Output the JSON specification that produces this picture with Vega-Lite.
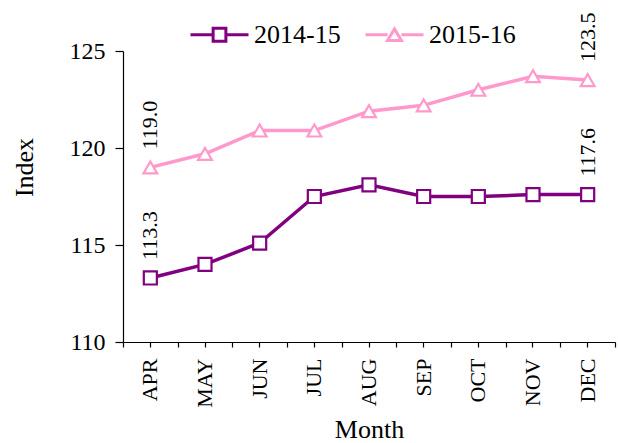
{
  "$schema": "https://vega.github.io/schema/vega-lite/v6.json",
  "width": 492,
  "height": 291,
  "autosize": {"type": "none"},
  "padding": {"left": 123, "top": 51, "right": 3, "bottom": 101},
  "background": "white",
  "config": {
    "font": "Liberation Serif",
    "view": {"stroke": null},
    "axis": {"labelFont": "Liberation Serif", "titleFont": "Liberation Serif", "labelColor": "black", "titleColor": "black", "titleFontWeight": "normal", "domainColor": "black", "tickColor": "black", "grid": false, "labelFontSize": 24, "titleFontSize": 26, "domainWidth": 1.2, "tickWidth": 1.2}
  },
  "data": {
    "values": [
      {"month": "APR", "series": "2014-15", "index": 113.3},
      {"month": "MAY", "series": "2014-15", "index": 114.0},
      {"month": "JUN", "series": "2014-15", "index": 115.1},
      {"month": "JUL", "series": "2014-15", "index": 117.5},
      {"month": "AUG", "series": "2014-15", "index": 118.1},
      {"month": "SEP", "series": "2014-15", "index": 117.5},
      {"month": "OCT", "series": "2014-15", "index": 117.5},
      {"month": "NOV", "series": "2014-15", "index": 117.6},
      {"month": "DEC", "series": "2014-15", "index": 117.6},
      {"month": "APR", "series": "2015-16", "index": 119.0},
      {"month": "MAY", "series": "2015-16", "index": 119.7},
      {"month": "JUN", "series": "2015-16", "index": 120.9},
      {"month": "JUL", "series": "2015-16", "index": 120.9},
      {"month": "AUG", "series": "2015-16", "index": 121.9},
      {"month": "SEP", "series": "2015-16", "index": 122.2},
      {"month": "OCT", "series": "2015-16", "index": 123.0},
      {"month": "NOV", "series": "2015-16", "index": 123.7},
      {"month": "DEC", "series": "2015-16", "index": 123.5}
    ]
  },
  "layer": [
    {
      "mark": {"type": "line", "strokeWidth": 3.5},
      "encoding": {
        "x": {"field": "month", "type": "ordinal", "sort": ["APR","MAY","JUN","JUL","AUG","SEP","OCT","NOV","DEC"],
              "scale": {"type": "band", "paddingInner": 0, "paddingOuter": 0},
              "axis": {"title": "Month", "orient": "bottom", "labelAngle": 270, "labelAlign": "right", "labelBaseline": "middle", "labelFontSize": 22, "tickSize": 5, "labelPadding": 11, "titleY": 95, "titleBaseline": "alphabetic"}},
        "y": {"field": "index", "type": "quantitative", "scale": {"domain": [110, 125], "nice": false, "zero": false},
              "axis": {"title": "Index", "values": [110, 115, 120, 125], "tickSize": 8, "labelPadding": 10, "titleX": -99, "titleY": 116, "titleAngle": 270, "titleAlign": "center", "titleBaseline": "middle"}},
        "stroke": {"field": "series", "type": "nominal", "scale": {"domain": ["2014-15", "2015-16"], "range": ["#800080", "#FF99CC"]},
          "legend": {"title": null, "orient": "none", "direction": "horizontal", "legendX": 66, "legendY": -47, "symbolType": "square", "symbolSize": 3364, "symbolStrokeWidth": 3, "labelFontSize": 26, "labelFont": "Liberation Serif", "labelColor": "black", "labelOffset": 4, "columnPadding": 18,
            "encode": {"symbols": {"update": {"shape": {"signal": "datum.value === '2014-15' ? 'M-1,0H-0.22M0.22,0H1M-0.22,-0.22H0.22V0.22H-0.22Z' : 'M-1,0H-0.24M0.24,0H1M0,-0.2L0.24,0.2H-0.24Z'"}, "fill": {"value": "white"}}}}}}
      }
    },
    {
      "transform": [{"filter": "datum.series === '2014-15'"}],
      "mark": {"type": "point", "shape": "square", "fill": "white", "filled": true, "opacity": 1, "strokeWidth": 2.2, "size": 170},
      "encoding": {
        "x": {"field": "month", "type": "ordinal", "sort": ["APR","MAY","JUN","JUL","AUG","SEP","OCT","NOV","DEC"],
              "axis": {"orient": "bottom", "title": null, "labels": false, "tickBand": "extent", "tickSize": 5, "domain": false}},
        "y": {"field": "index", "type": "quantitative"},
        "stroke": {"field": "series", "type": "nominal"}
      }
    },
    {
      "transform": [{"filter": "datum.series === '2015-16'"}],
      "mark": {"type": "point", "shape": "triangle-up", "fill": "white", "filled": true, "opacity": 1, "strokeWidth": 2.2, "size": 190},
      "encoding": {
        "x": {"field": "month", "type": "ordinal", "sort": ["APR","MAY","JUN","JUL","AUG","SEP","OCT","NOV","DEC"], "axis": null},
        "y": {"field": "index", "type": "quantitative"},
        "stroke": {"field": "series", "type": "nominal"}
      }
    },
    {
      "transform": [{"filter": "datum.month === 'APR' || datum.month === 'DEC'"}],
      "mark": {"type": "text", "angle": 270, "align": "left", "baseline": "middle", "dx": 18, "fontSize": 22, "font": "Liberation Serif", "color": "black"},
      "encoding": {
        "x": {"field": "month", "type": "ordinal", "sort": ["APR","MAY","JUN","JUL","AUG","SEP","OCT","NOV","DEC"], "axis": null},
        "y": {"field": "index", "type": "quantitative"},
        "text": {"field": "index", "type": "quantitative", "format": ".1f"}
      }
    }
  ],
  "resolve": {"axis": {"x": "independent"}}
}
